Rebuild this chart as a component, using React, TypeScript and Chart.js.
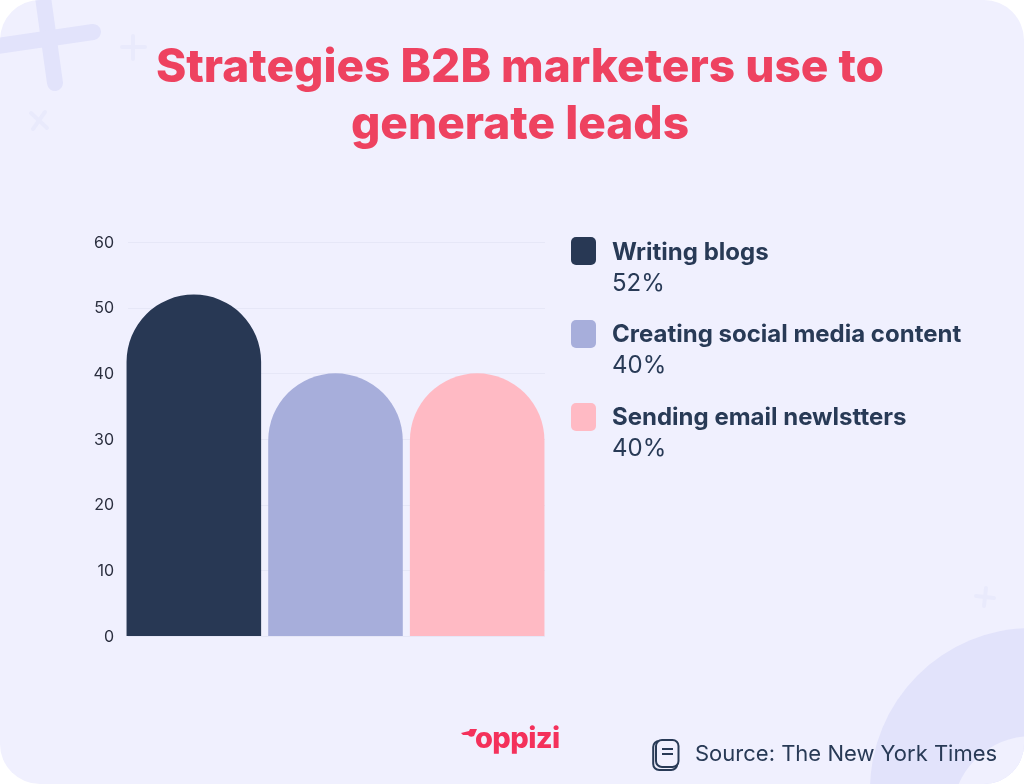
import React, { useEffect, useRef } from "react";
import { Chart, registerables } from "chart.js";

Chart.register(...registerables);

const categories = ["Writing blogs", "Creating social media content", "Sending email newlstters"];
const values = [52, 40, 40];
const valueLabels = ["52%", "40%", "40%"];
const colors = ["#283854", "#a7aedb", "#ffbac4"];
const titleLines = ["Strategies B2B marketers use to", "generate leads"];
const sourceText = "Source: The New York Times";
const brand = "oppizi";

const FONT = "Inter, 'Noto Sans', sans-serif";
const INK = "#283a56";

const insetGrid = {
  id: "insetGrid",
  beforeDatasetsDraw(chart: any) {
    const { ctx, scales } = chart;
    ctx.save();
    ctx.strokeStyle = "#e6e7f7";
    ctx.lineWidth = 1;
    scales.y.ticks.forEach((t: any) => {
      const y = Math.round(scales.y.getPixelForValue(t.value)) + 0.5;
      ctx.beginPath();
      ctx.moveTo(128, y);
      ctx.lineTo(545, y);
      ctx.stroke();
    });
    ctx.restore();
  },
};

export default function App() {
  const ref = useRef<HTMLCanvasElement>(null);
  useEffect(() => {
    const chart = new Chart(ref.current!, {
      type: "bar",
      plugins: [insetGrid],
      data: {
        labels: categories,
        datasets: [
          {
            data: values,
            backgroundColor: colors,
            barPercentage: 0.95,
            categoryPercentage: 1,
            borderWidth: 0,
            borderSkipped: "bottom",
            borderRadius: { topLeft: 68, topRight: 68, bottomLeft: 0, bottomRight: 0 },
          },
        ],
      },
      options: {
        animation: false,
        responsive: false,
        devicePixelRatio: 1,
        layout: { padding: { left: 60, right: 476, top: 242, bottom: 148 } },
        plugins: { legend: { display: false }, tooltip: { enabled: false }, title: { display: false } },
        scales: {
          x: {
            ticks: { display: false },
            grid: { display: false },
            border: { display: false },
            afterFit: (s: any) => {
              s.height = 0;
            },
          },
          y: {
            min: 0,
            max: 60,
            afterFit: (s: any) => {
              s.width = 63;
            },
            ticks: {
              stepSize: 10,
              padding: 1,
              labelOffset: 1,
              color: "#2b2f3f",
              font: { family: FONT, size: 16 },
            },
            grid: { display: false },
            border: { display: false },
          },
        },
      },
    });
    return () => chart.destroy();
  }, []);

  return (
    <div style={{ position: "absolute", left: 0, top: 0, width: 1024, height: 784, background: "#ffffff", overflow: "hidden", fontFamily: FONT }}>
      <div style={{ position: "absolute", inset: 0, background: "#f0f0fe", borderRadius: 40, overflow: "hidden" }}>
        <svg width={1024} height={784} style={{ position: "absolute", left: 0, top: 0 }}>
          <g stroke="#e2e3fb" strokeLinecap="round" fill="none">
            <line x1={42} y1={-10} x2={55} y2={83} strokeWidth={16} />
            <line x1={-10} y1={47} x2={93} y2={32} strokeWidth={16} />
          </g>
          <g stroke="#e9eafc" strokeLinecap="round" fill="none" strokeWidth={4}>
            <line x1={133} y1={36} x2={133} y2={59} />
            <line x1={122} y1={47} x2={145} y2={47} />
            <line x1={31} y1={113} x2={47} y2={128} />
            <line x1={45} y1={112} x2={33} y2={129} />
            <line x1={986} y1={588} x2={984} y2={606} />
            <line x1={976} y1={596} x2={994} y2={598} />
          </g>
          <circle cx={1032} cy={790} r={162} fill="#e2e3fb" />
          <circle cx={1032} cy={816} r={80} fill="#f0f0fe" />
        </svg>
      </div>
      <canvas ref={ref} width={1024} height={784} style={{ position: "absolute", left: 0, top: 0, display: "block" }} />
      <div style={{ position: "absolute", left: 0, width: 1040, top: 37, textAlign: "center", color: "#ee4260", fontWeight: 800, fontSize: 46, lineHeight: "57px" }}>
        {titleLines.map((t) => (
          <div key={t}>{t}</div>
        ))}
      </div>
      {categories.map((c, i) => (
        <div key={c} style={{ position: "absolute", left: 571, top: 237 + [0, 83, 166][i], color: INK }}>
          <div style={{ position: "absolute", left: 0, top: 0, width: 25, height: 28, borderRadius: 5, background: colors[i] }} />
          <div style={{ position: "absolute", left: 41, top: i ? 0 : 1, whiteSpace: "nowrap", fontWeight: 700, fontSize: 24, lineHeight: "28px" }}>{c}</div>
          <div style={{ position: "absolute", left: 41, top: i ? 31 : 32, whiteSpace: "nowrap", fontSize: 24, lineHeight: "28px" }}>{valueLabels[i]}</div>
        </div>
      ))}
      <svg width={26} height={22} viewBox="0 0 26 22" style={{ position: "absolute", left: 460, top: 728 }}>
        <path d="M1 5 L9 3 L10 1 L17 1 L14 8 Q10 10 8 7 L3 7 Z" fill="#f4315b" />
      </svg>
      <div style={{ position: "absolute", left: 475, top: 720, color: "#f4315b", fontWeight: 800, fontSize: 29, lineHeight: "36px", letterSpacing: -0.6 }}>{brand}</div>
      <svg width={28} height={34} viewBox="0 0 28 34" style={{ position: "absolute", left: 652, top: 755 - 16 }}>
        <rect x={1.2} y={2} width={24} height={29} rx={6} fill="none" stroke={INK} strokeWidth={2} />
        <rect x={4} y={1} width={22.5} height={27} rx={6} fill="#f0f0fe" stroke={INK} strokeWidth={2} />
        <line x1={10} y1={10} x2={21} y2={10} stroke={INK} strokeWidth={2} />
        <line x1={10} y1={15} x2={21} y2={15} stroke={INK} strokeWidth={2} />
      </svg>
      <div style={{ position: "absolute", left: 695, top: 738, whiteSpace: "nowrap", color: INK, fontSize: 22, lineHeight: "30px" }}>{sourceText}</div>
    </div>
  );
}
